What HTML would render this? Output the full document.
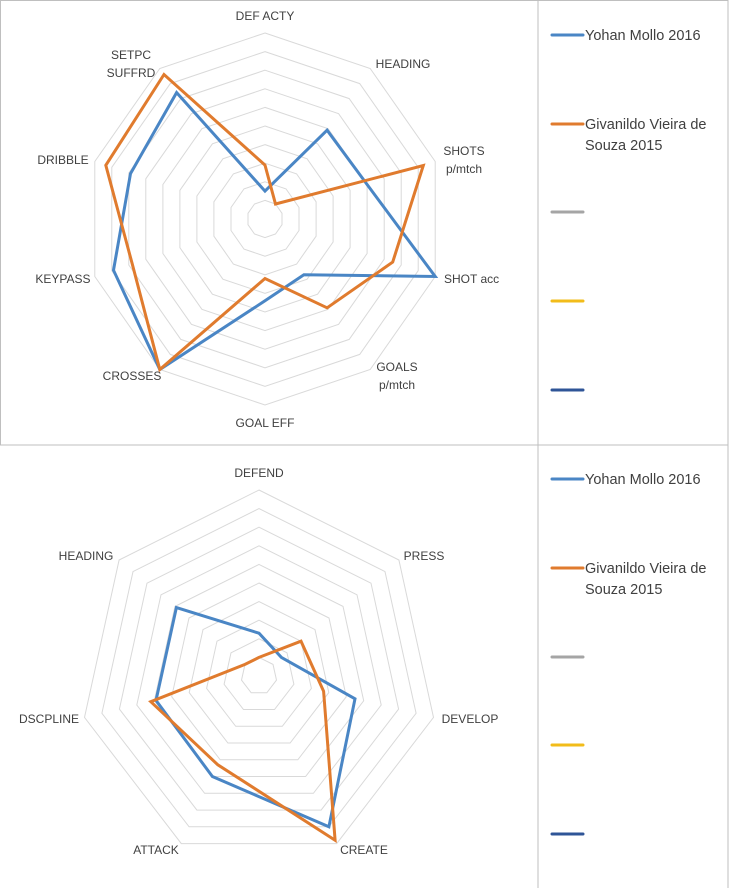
<!DOCTYPE html>
<html><head><meta charset="utf-8"><style>
html,body{margin:0;padding:0;background:#fff;}
body{width:730px;height:888px;overflow:hidden;position:relative;font-family:"Liberation Sans",sans-serif;}
svg{position:absolute;left:0;top:0;}
text{font-family:"Liberation Sans",sans-serif;fill:#404040;}
</style></head><body>
<svg id="chart" width="730" height="888" viewBox="0 0 730 888" xmlns="http://www.w3.org/2000/svg">
  <g stroke="#bfbfbf" stroke-width="1" fill="none">
    <rect x="0.5" y="0.5" width="727.5" height="444.5"/>
    <line x1="538" y1="0" x2="538" y2="888"/>
    <line x1="728" y1="445" x2="728" y2="888"/>
  </g>
  <g id="top-radar"></g>
  <g id="bottom-radar"></g>
  <g id="legends"></g>
</svg>
<script>
const topCategories = ["DEF ACTY","HEADING","SHOTS p/mtch","SHOT acc","GOALS p/mtch","GOAL EFF","CROSSES","KEYPASS","DRIBBLE","SETPC SUFFRD"];
const topMollo = [1.5, 5.9, 6.0, 10, 3.7, 4.4, 10, 8.9, 7.9, 8.4];
const topVieira = [2.9, 1.0, 9.3, 7.5, 5.9, 3.2, 10, 7.8, 9.35, 9.6];
const bottomCategories = ["DEFEND","PRESS","DEVELOP","CREATE","ATTACK","DSCPLINE","HEADING"];
const bottomMollo = [2.3, 1.6, 5.5, 9.0, 6.0, 5.9, 5.9];
const bottomVieira = [1.0, 3.0, 3.7, 9.8, 5.3, 6.2, 1.0];
const seriesNames = ["Yohan Mollo 2016","Givanildo Vieira de Souza 2015","","",""];
const seriesColors = ["#4a86c5","#e07b2e","#a5a5a5","#f2bc1a","#2f5597"];
const scaleMax = 10;
const ringCount = 10;

const NS = "http://www.w3.org/2000/svg";
function mk(tag, attrs, parent){const e=document.createElementNS(NS,tag);for(const k in attrs)e.setAttribute(k,attrs[k]);parent.appendChild(e);return e;}

// label placement config (layout, not data)
const topLabelPos = [
  {x:265,y:20,a:"middle"},{x:403,y:68,a:"middle"},{x:464,y:155,a:"middle",l2:true},{x:444,y:283,a:"start"},
  {x:397,y:371,a:"middle",l2:true},{x:265,y:427,a:"middle"},{x:132,y:380,a:"middle"},{x:63,y:283,a:"middle"},
  {x:63,y:164,a:"middle"},{x:131,y:59,a:"middle",l2:true}];
const bottomLabelPos = [
  {x:259,y:477,a:"middle"},{x:424,y:560,a:"middle"},{x:470,y:723,a:"middle"},{x:364,y:854,a:"middle"},
  {x:156,y:854,a:"middle"},{x:49,y:723,a:"middle"},{x:86,y:560,a:"middle"}];

function drawRadar(g, cats, s1, s2, cx, cy, rx, ry, labelPos){
  const n = cats.length;
  const pt = (i, v) => { const ang = i*2*Math.PI/n; const r = v/scaleMax; return [cx + Math.sin(ang)*rx*r, cy - Math.cos(ang)*ry*r]; };
  const grid = mk("g",{},g);
  
  
  for(let k=1;k<=ringCount;k++){
    const v = k*scaleMax/ringCount;
    const pts = cats.map((c,i)=>pt(i,v).map(p=>p.toFixed(1)).join(",")).join(" ");
    const ring = mk("polygon",{points:pts,fill:"none",stroke:"#d9d9d9","stroke-width":1},grid);
    
    
  }
  cats.forEach((c,i)=>{
    const p = labelPos[i];
    const t = mk("text",{x:p.x,y:p.y,"text-anchor":p.a,"font-size":12},g);
    
    
    const parts = c.split(" ");
    if(p.l2){
      const a = mk("tspan",{x:p.x,dy:0},t); a.textContent = parts[0];
      const b = mk("tspan",{x:p.x,dy:18},t); b.textContent = parts.slice(1).join(" ");
    } else t.textContent = c;
  });
  [s1,s2].forEach((s,si)=>{
    const pts = s.map((v,i)=>pt(i,v).map(p=>p.toFixed(1)).join(",")).join(" ");
    const poly = mk("polygon",{points:pts,fill:"none",stroke:seriesColors[si],"stroke-width":3,"stroke-linejoin":"miter"},g);
    
    
  });
}
drawRadar(document.getElementById("top-radar"), topCategories, topMollo, topVieira, 265, 219, 179, 186, topLabelPos);
drawRadar(document.getElementById("bottom-radar"), bottomCategories, bottomMollo, bottomVieira, 259, 676, 179, 186, bottomLabelPos);

function drawLegend(ys){
  const lg = document.getElementById("legends");
  seriesNames.forEach((nm,i)=>{
    const y = ys[i];
    const grp = mk("g",{},lg);
    
    
    mk("line",{x1:552,y1:y,x2:583,y2:y,stroke:seriesColors[i],"stroke-width":3,"stroke-linecap":"round"},grp);
    if(nm){
      const t = mk("text",{x:585,y:y+5,"font-size":14.5},grp);
      if(nm.length>20){
        const a = mk("tspan",{x:585,dy:0},t); a.textContent = "Givanildo Vieira de";
        const b = mk("tspan",{x:585,dy:21},t); b.textContent = "Souza 2015";
      } else t.textContent = nm;
    }
  });
}
drawLegend([35,124,212,301,390]);
drawLegend([479,568,657,745,834]);
</script>
</body></html>
